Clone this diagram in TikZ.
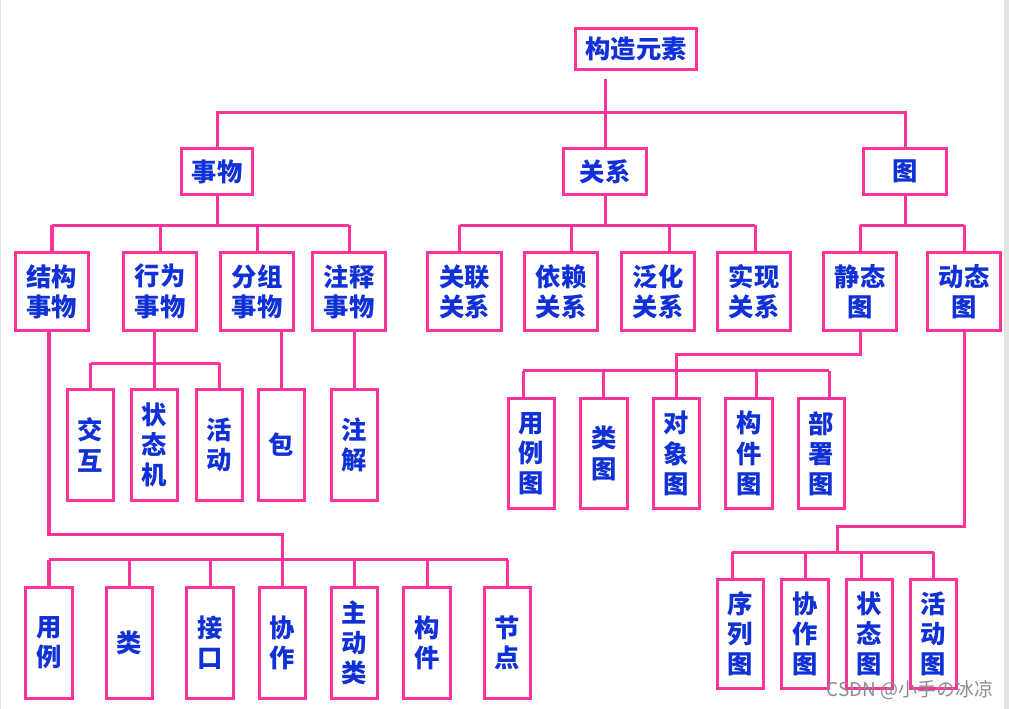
\documentclass[tikz,border=0pt]{standalone}
\usepackage{fontspec}
\setmainfont{Noto Sans CJK SC}
\usepackage{xcolor}
\usepackage{tikz}
\usetikzlibrary{calc}
\definecolor{umlPink}{HTML}{FF3399}
\definecolor{umlBlue}{HTML}{1030D8}
\definecolor{edgeGray}{HTML}{E4E4E4}

\begin{document}
\begin{tikzpicture}[
    x=0.025cm, y=-0.025cm,
    every node/.style={font=\bfseries\fontsize{18}{21.5}\selectfont, text=umlBlue},
    box/.style={
        rectangle, draw=umlPink, line width=0.075cm, fill=white,
        align=center, inner sep=0pt
    },
    topbox/.style={box, minimum width=3.025cm, minimum height=1.025cm},
    catbox/.style={box, minimum width=2.075cm, minimum height=1.15cm},
    kindbox/.style={box, minimum width=1.825cm, minimum height=1.95cm},
    leafbox/.style={box, minimum width=1.15cm, minimum height=2.775cm},
    wire/.style={draw=umlPink, line width=0.075cm}
]

\useasboundingbox (0,0) rectangle (1009,709);
\fill[edgeGray] (1004,0) rectangle (1009,709);
\fill[edgeGray] (0,0) rectangle (1.2,709);

\node[topbox] (root) at (636,49) {构造元素};

\node[catbox, minimum width=1.775cm] (thing) at (217,171.5) {事物};
\node[catbox] (rel) at (605,171.5) {关系};
\node[catbox] (diag) at (905,171.5) {图};

\node[kindbox] (struct) at (52,291.5) {结构\\事物};
\node[kindbox] (behav) at (160,291.5) {行为\\事物};
\node[kindbox] (group) at (257,291.5) {分组\\事物};
\node[kindbox] (note) at (349,291.5) {注释\\事物};
\node[kindbox] (assoc) at (464.5,291.5) {关联\\关系};
\node[kindbox] (dep) at (561,291.5) {依赖\\关系};
\node[kindbox] (gen) at (658,291.5) {泛化\\关系};
\node[kindbox] (real) at (754,291.5) {实现\\关系};
\node[kindbox] (static) at (860,291.5) {静态\\图};
\node[kindbox] (dynamic) at (964,291.5) {动态\\图};

\node[leafbox] (inter) at (90.5,445) {交\\互};
\node[leafbox] (statem) at (154.5,445) {状\\态\\机};
\node[leafbox] (activ) at (219.5,445) {活\\动};
\node[leafbox] (pkg) at (281.5,445) {包};
\node[leafbox] (annot) at (354.5,445) {注\\解};

\node[leafbox, minimum height=2.75cm] (useDg) at (531.5,453.5) {用\\例\\图};
\node[leafbox, minimum height=2.75cm] (classDg) at (604,453.5) {类\\图};
\node[leafbox, minimum height=2.75cm] (objDg) at (676.5,453.5) {对\\象\\图};
\node[leafbox, minimum height=2.75cm] (compDg) at (749,453.5) {构\\件\\图};
\node[leafbox, minimum height=2.75cm] (deplDg) at (821.5,453.5) {部\\署\\图};

\node[leafbox] (useCase) at (49,643) {用\\例};
\node[leafbox] (class) at (129.5,643) {类};
\node[leafbox] (iface) at (210,643) {接\\口};
\node[leafbox] (collab) at (282.5,643) {协\\作};
\node[leafbox] (active) at (354.5,643) {主\\动\\类};
\node[leafbox] (compt) at (427,643) {构\\件};
\node[leafbox] (nodeE) at (507.5,643) {节\\点};

\node[leafbox, minimum height=2.725cm] (seqDg) at (740.5,634) {序\\列\\图};
\node[leafbox, minimum height=2.725cm] (collDg) at (805,634) {协\\作\\图};
\node[leafbox, minimum height=2.725cm] (stateDg) at (869.5,634) {状\\态\\图};
\node[leafbox, minimum height=2.725cm] (actDg) at (933.5,634) {活\\动\\图};

\draw[wire, shorten <=0.2cm] (root.south -| rel.north) -- (rel.north);
\draw[wire] (thing.north) -- ++(0,-34) -| (diag.north);

\draw[wire] (thing.south) -- ++(0,29) coordinate (busT);
\draw[wire] (busT -| struct.north) -- (busT -| note.north);
\foreach \c in {struct, behav, group, note}
    \draw[wire] (busT -| \c.north) -- (\c.north);

\draw[wire] (rel.south) -- ++(0,29) coordinate (busR);
\draw[wire] ($(busR -| assoc.north)+(-5,0)$) -- ($(busR -| real.north)+(1,0)$);
\foreach \c/\dx in {assoc/-5, dep/10, gen/11, real/1}
    \draw[wire] ($(busR -| \c.north)+(\dx,0)$) -- ($(\c.north)+(\dx,0)$);

\draw[wire] (diag.south) -- ++(0,29) coordinate (busD);
\draw[wire] (busD -| static.north) -- (busD -| dynamic.north);
\foreach \c in {static, dynamic}
    \draw[wire] (busD -| \c.north) -- (\c.north);

\draw[wire] (behav.south -| statem.north) -- ++(0,31) coordinate (busB);
\draw[wire] (busB -| inter.north) -- (busB -| activ.north);
\foreach \c in {inter, statem, activ}
    \draw[wire] (busB -| \c.north) -- (\c.north);
\draw[wire] (group.south -| pkg.north) -- (pkg.north);
\draw[wire] (note.south -| annot.north) -- (annot.north);

\path (collab.north) ++(0,-26) coordinate (busS);
\draw[wire] (struct.south -| useCase.north) -- ++(0,202) -| (busS);
\draw[wire] (busS -| useCase.north) -- (busS -| nodeE.north);
\foreach \c in {useCase, class, iface, collab, active, compt, nodeE}
    \draw[wire] (busS -| \c.north) -- (\c.north);

\draw[wire] (static.south) -- ++(0,22) -| ($(objDg.north)+(0,-26)$) coordinate (busSt);
\draw[wire] ($(busSt -| useDg.north)+(-8.5,0)$) -- ($(busSt -| deplDg.north)+(7.5,0)$);
\foreach \c/\dx in {useDg/-8.5, classDg/-1, objDg/0, compDg/7, deplDg/7.5}
    \draw[wire] ($(busSt -| \c.north)+(\dx,0)$) -- ($(\c.north)+(\dx,0)$);

\draw[wire] (dynamic.south) -- ++(0,194) -| ++(-127,26) coordinate (busDy);
\draw[wire] ($(busDy -| seqDg.north)+(-8.5,0)$) -- (busDy -| actDg.north);
\foreach \c/\dx in {seqDg/-8.5, collDg/0, stateDg/-8.5, actDg/0}
    \draw[wire] ($(busDy -| \c.north)+(\dx,0)$) -- ($(\c.north)+(\dx,0)$);

\node[font=\fontsize{13.5}{16}\selectfont, text=black!45] (mark) at (910,690) {CSDN @小手の冰凉};

\end{tikzpicture}
\end{document}
